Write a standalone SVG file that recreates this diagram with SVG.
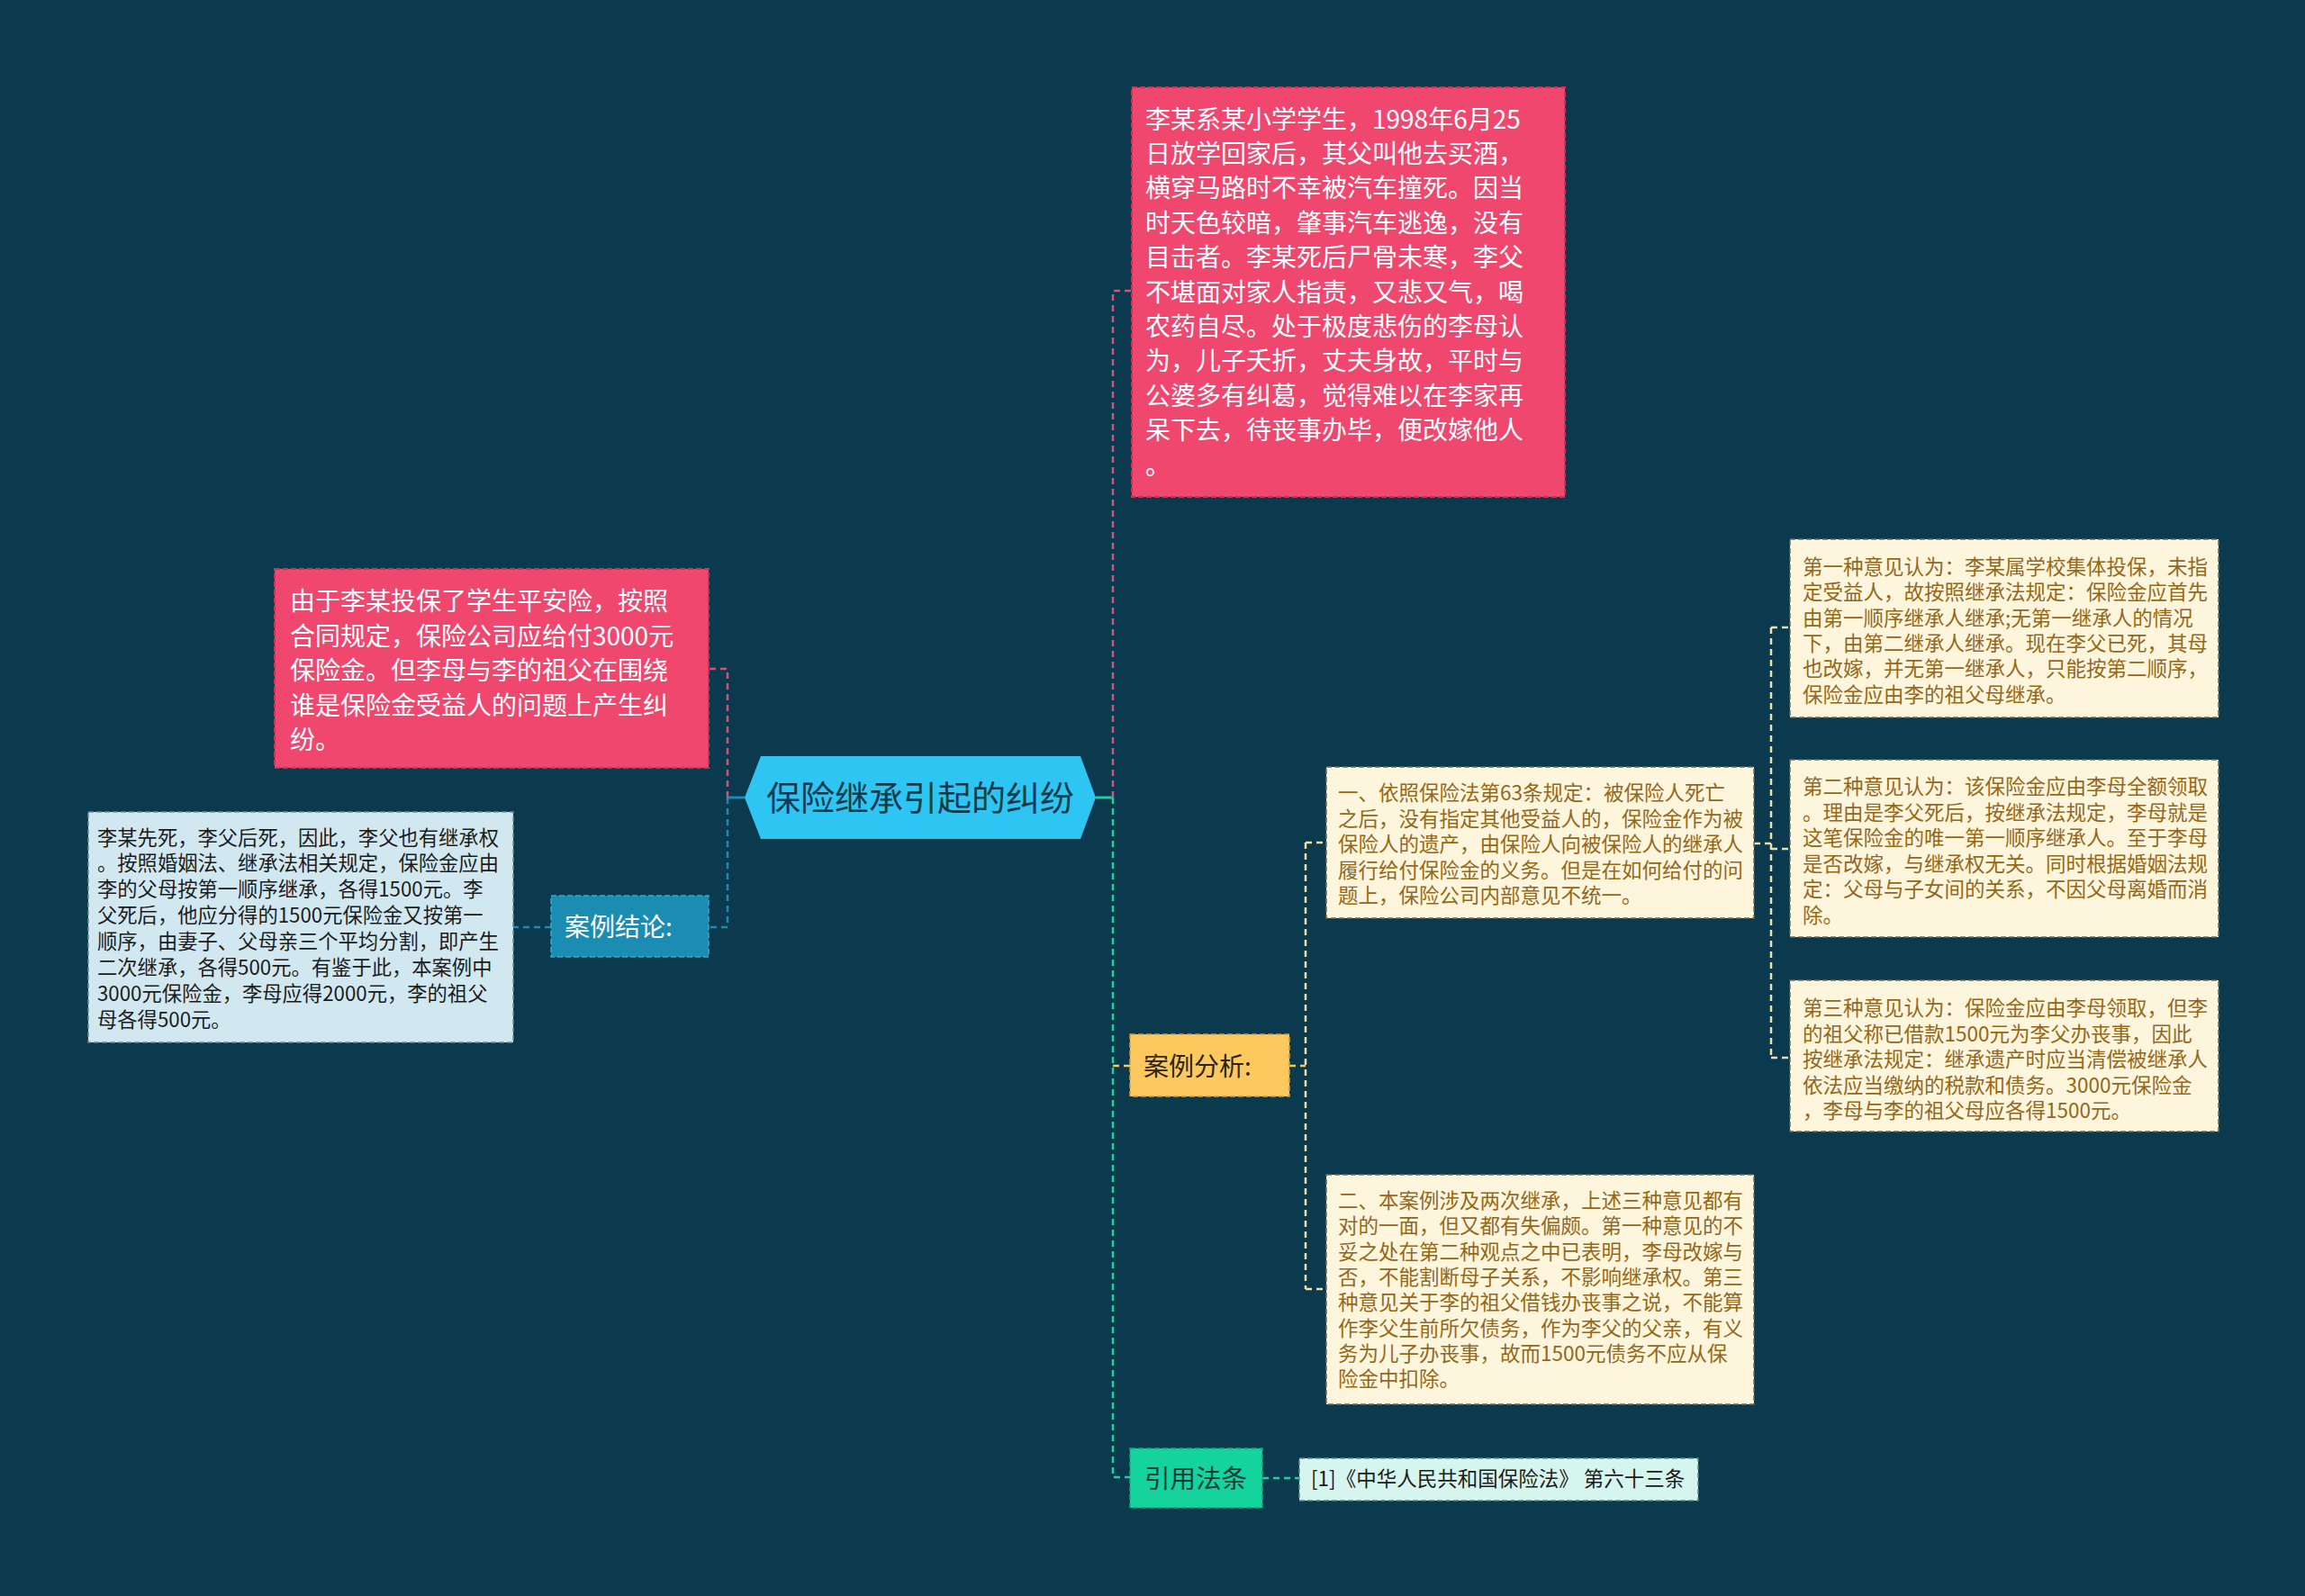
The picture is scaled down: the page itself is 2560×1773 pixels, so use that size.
<svg xmlns="http://www.w3.org/2000/svg" width="2560" height="1773" viewBox="0 0 2560 1773">
<style>
text{font-family:"Noto Sans CJK SC","Liberation Sans",sans-serif;}
.pink{fill:#f0476f;stroke:#c93358;stroke-width:2;stroke-dasharray:6 3;}
.pt{fill:#ffffff;font-size:28px;}
.cream{fill:#fdf5dc;stroke:#6b6a55;stroke-width:1.5;stroke-dasharray:6 3;}
.ct{fill:#94681a;font-size:22.5px;}
.lblue{fill:#d2e8f1;stroke:#6f8b96;stroke-width:1.5;stroke-dasharray:6 3;}
.lt{fill:#1c1c1c;font-size:22.3px;}
.c{fill:none;stroke-width:2.5;stroke-dasharray:7 5;}
.cp{stroke:#dc4f77;}
.cb{stroke:#1b8db3;}
.cg{stroke:#1fd09c;}
.cy{stroke:#f7c85c;}
.cc{stroke:#efe0a8;}
</style>
<rect x="0" y="0" width="2560" height="1773" fill="#0b394d"/>
<g id="connectors">
  <line x1="808" y1="886" x2="827" y2="886" stroke="#1b8db3" stroke-width="3"/>
  <line x1="1217" y1="886" x2="1236" y2="886" stroke="#1fd09c" stroke-width="3"/>
  <path class="c cp" d="M808 886 V743 H787"/>
  <path class="c cb" d="M808 886 V1030 H787"/>
  <path class="c cb" d="M612 1030 H570"/>
  <path class="c cp" d="M1236 886 V323 H1257"/>
  <path class="c cg" d="M1236 886 V1641 H1255"/>
  <path class="c cy" d="M1236 1184 H1255"/>
  <path class="c cg" d="M1402 1642 H1443"/>
  <path class="c cy" d="M1432 1184 H1450"/>
  <path class="c cc" d="M1450 936 V1432"/>
  <path class="c cc" d="M1450 936 H1473"/>
  <path class="c cc" d="M1450 1432 H1473"/>
  <path class="c cc" d="M1948 937 H1967"/>
  <path class="c cc" d="M1967 697 V1175"/>
  <path class="c cc" d="M1967 697 H1988"/>
  <path class="c cc" d="M1967 943 H1988"/>
  <path class="c cc" d="M1967 1175 H1988"/>
</g>
<g id="root">
  <polygon points="827,886 845,840 1200,840 1217,886 1200,932 845,932" fill="#2ec5f2"/>
  <text x="1022" y="900" text-anchor="middle" font-size="38" fill="#133a4c">保险继承引起的纠纷</text>
</g>
<g id="node-story">
  <rect class="pink" x="1257" y="97" width="481" height="455"/>
  <text class="pt" x="1272">
    <tspan x="1272" y="142.5">李某系某小学学生，1998年6月25</tspan>
    <tspan x="1272" y="180.9">日放学回家后，其父叫他去买酒，</tspan>
    <tspan x="1272" y="219.3">横穿马路时不幸被汽车撞死。因当</tspan>
    <tspan x="1272" y="257.7">时天色较暗，肇事汽车逃逸，没有</tspan>
    <tspan x="1272" y="296.1">目击者。李某死后尸骨未寒，李父</tspan>
    <tspan x="1272" y="334.5">不堪面对家人指责，又悲又气，喝</tspan>
    <tspan x="1272" y="372.9">农药自尽。处于极度悲伤的李母认</tspan>
    <tspan x="1272" y="411.3">为，儿子夭折，丈夫身故，平时与</tspan>
    <tspan x="1272" y="449.7">公婆多有纠葛，觉得难以在李家再</tspan>
    <tspan x="1272" y="488.1">呆下去，待丧事办毕，便改嫁他人</tspan>
    <tspan x="1272" y="526.5">。</tspan>
  </text>
</g>
<g id="node-dispute">
  <rect class="pink" x="305" y="632" width="482" height="221"/>
  <text class="pt">
    <tspan x="322" y="678">由于李某投保了学生平安险，按照</tspan>
    <tspan x="322" y="716.5">合同规定，保险公司应给付3000元</tspan>
    <tspan x="322" y="755">保险金。但李母与李的祖父在围绕</tspan>
    <tspan x="322" y="793.5">谁是保险金受益人的问题上产生纠</tspan>
    <tspan x="322" y="832">纷。</tspan>
  </text>
</g>
<g id="node-conclusion">
  <rect x="612" y="995" width="175" height="68" fill="#1b8db3" stroke="#3aa7c9" stroke-width="1.5" stroke-dasharray="6 3"/>
  <text x="627" y="1040" font-size="28" fill="#ffffff">案例结论:</text>
</g>
<g id="node-conclusion-text">
  <rect class="lblue" x="98" y="902" width="472" height="256"/>
  <text class="lt">
    <tspan x="108" y="938.5">李某先死，李父后死，因此，李父也有继承权</tspan>
    <tspan x="108" y="967.4">。按照婚姻法、继承法相关规定，保险金应由</tspan>
    <tspan x="108" y="996.3">李的父母按第一顺序继承，各得1500元。李</tspan>
    <tspan x="108" y="1025.2">父死后，他应分得的1500元保险金又按第一</tspan>
    <tspan x="108" y="1054.1">顺序，由妻子、父母亲三个平均分割，即产生</tspan>
    <tspan x="108" y="1083">二次继承，各得500元。有鉴于此，本案例中</tspan>
    <tspan x="108" y="1111.9">3000元保险金，李母应得2000元，李的祖父</tspan>
    <tspan x="108" y="1140.8">母各得500元。</tspan>
  </text>
</g>
<g id="node-analysis">
  <rect x="1255" y="1149" width="177" height="69" fill="#fdc95f" stroke="#c9a040" stroke-width="1.5" stroke-dasharray="6 3"/>
  <text x="1270" y="1195" font-size="28" fill="#2a2410">案例分析:</text>
</g>
<g id="node-analysis-1">
  <rect class="cream" x="1473" y="852" width="475" height="168"/>
  <text class="ct">
    <tspan x="1486" y="889">一、依照保险法第63条规定：被保险人死亡</tspan>
    <tspan x="1486" y="917.5">之后，没有指定其他受益人的，保险金作为被</tspan>
    <tspan x="1486" y="946">保险人的遗产，由保险人向被保险人的继承人</tspan>
    <tspan x="1486" y="974.5">履行给付保险金的义务。但是在如何给付的问</tspan>
    <tspan x="1486" y="1003">题上，保险公司内部意见不统一。</tspan>
  </text>
</g>
<g id="node-opinion-1">
  <rect class="cream" x="1988" y="599" width="476" height="198"/>
  <text class="ct">
    <tspan x="2002" y="638">第一种意见认为：李某属学校集体投保，未指</tspan>
    <tspan x="2002" y="666.3">定受益人，故按照继承法规定：保险金应首先</tspan>
    <tspan x="2002" y="694.6">由第一顺序继承人继承;无第一继承人的情况</tspan>
    <tspan x="2002" y="722.9">下，由第二继承人继承。现在李父已死，其母</tspan>
    <tspan x="2002" y="751.2">也改嫁，并无第一继承人，只能按第二顺序，</tspan>
    <tspan x="2002" y="779.5">保险金应由李的祖父母继承。</tspan>
  </text>
</g>
<g id="node-opinion-2">
  <rect class="cream" x="1988" y="844" width="476" height="197"/>
  <text class="ct">
    <tspan x="2002" y="882">第二种意见认为：该保险金应由李母全额领取</tspan>
    <tspan x="2002" y="910.5">。理由是李父死后，按继承法规定，李母就是</tspan>
    <tspan x="2002" y="939">这笔保险金的唯一第一顺序继承人。至于李母</tspan>
    <tspan x="2002" y="967.5">是否改嫁，与继承权无关。同时根据婚姻法规</tspan>
    <tspan x="2002" y="996">定：父母与子女间的关系，不因父母离婚而消</tspan>
    <tspan x="2002" y="1024.5">除。</tspan>
  </text>
</g>
<g id="node-opinion-3">
  <rect class="cream" x="1988" y="1089" width="476" height="168"/>
  <text class="ct">
    <tspan x="2002" y="1128">第三种意见认为：保险金应由李母领取，但李</tspan>
    <tspan x="2002" y="1156.5">的祖父称已借款1500元为李父办丧事，因此</tspan>
    <tspan x="2002" y="1185">按继承法规定：继承遗产时应当清偿被继承人</tspan>
    <tspan x="2002" y="1213.5">依法应当缴纳的税款和债务。3000元保险金</tspan>
    <tspan x="2002" y="1242">，李母与李的祖父母应各得1500元。</tspan>
  </text>
</g>
<g id="node-analysis-2">
  <rect class="cream" x="1473" y="1305" width="475" height="255"/>
  <text class="ct">
    <tspan x="1486" y="1342">二、本案例涉及两次继承，上述三种意见都有</tspan>
    <tspan x="1486" y="1370.3">对的一面，但又都有失偏颇。第一种意见的不</tspan>
    <tspan x="1486" y="1398.6">妥之处在第二种观点之中已表明，李母改嫁与</tspan>
    <tspan x="1486" y="1426.9">否，不能割断母子关系，不影响继承权。第三</tspan>
    <tspan x="1486" y="1455.2">种意见关于李的祖父借钱办丧事之说，不能算</tspan>
    <tspan x="1486" y="1483.5">作李父生前所欠债务，作为李父的父亲，有义</tspan>
    <tspan x="1486" y="1511.8">务为儿子办丧事，故而1500元债务不应从保</tspan>
    <tspan x="1486" y="1540.1">险金中扣除。</tspan>
  </text>
</g>
<g id="node-law">
  <rect x="1255" y="1609" width="147" height="66" fill="#14d39c" stroke="#0fa67a" stroke-width="1.5" stroke-dasharray="6 3"/>
  <text x="1271" y="1653" font-size="28.5" fill="#0d3b3a">引用法条</text>
</g>
<g id="node-law-ref">
  <rect x="1443" y="1620" width="443" height="47" fill="#d5f5ee" stroke="#5d8a84" stroke-width="1.5" stroke-dasharray="6 3"/>
  <text x="1456" y="1651" font-size="22.5" fill="#1c1c1c">[1]《中华人民共和国保险法》 第六十三条</text>
</g>
</svg>
